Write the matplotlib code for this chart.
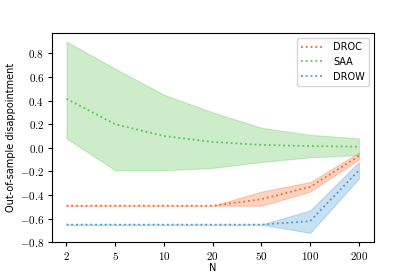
import matplotlib
matplotlib.use("Agg")
import matplotlib.pyplot as plt
from matplotlib.ticker import FuncFormatter

N_labels = ["2", "5", "10", "20", "50", "100", "200"]

droc_mean = [-0.49, -0.49, -0.49, -0.49, -0.435, -0.33, -0.07]
droc_low = [-0.49, -0.49, -0.49, -0.49, -0.49, -0.37, -0.10]
droc_high = [-0.49, -0.49, -0.49, -0.49, -0.37, -0.29, -0.04]

saa_mean = [0.415, 0.20, 0.10, 0.05, 0.025, 0.015, 0.01]
saa_low = [0.08, -0.19, -0.19, -0.17, -0.12, -0.08, -0.06]
saa_high = [0.90, 0.67, 0.45, 0.30, 0.17, 0.11, 0.08]

drow_mean = [-0.65, -0.65, -0.65, -0.65, -0.65, -0.62, -0.19]
drow_low = [-0.65, -0.65, -0.65, -0.65, -0.65, -0.72, -0.26]
drow_high = [-0.65, -0.65, -0.65, -0.65, -0.65, -0.53, -0.12]

c_droc = "#fa6a2c"
c_saa = "#5cc450"
c_drow = "#4a9bd6"

plt.rcParams["mathtext.fontset"] = "cm"
fig, ax = plt.subplots(figsize=(4.15, 2.77), dpi=100)
fig.subplots_adjust(left=0.125, right=0.9, top=0.88, bottom=0.125)

x = list(range(len(N_labels)))
for mean, lo, hi, c, lab in [(droc_mean, droc_low, droc_high, c_droc, "DROC"),
                             (saa_mean, saa_low, saa_high, c_saa, "SAA"),
                             (drow_mean, drow_low, drow_high, c_drow, "DROW")]:
    ax.plot(x, mean, linestyle=":", color=c, lw=1.3, label=lab)
    ax.fill_between(x, lo, hi, color=c, alpha=0.3, lw=0.8)

ax.set_xticks(x)
ax.set_xticklabels(["$" + s + "$" for s in N_labels], fontsize=8)
ax.set_xlim(-0.3, 6.3)
ax.set_ylim(-0.8, 0.97)
ax.set_yticks([-0.8, -0.6, -0.4, -0.2, 0.0, 0.2, 0.4, 0.6, 0.8])
ax.yaxis.set_major_formatter(FuncFormatter(lambda v, p: "$%.1f$" % v))
ax.tick_params(labelsize=8, length=3, pad=2.5)
ax.set_xlabel("N", fontsize=7, labelpad=1)
ax.set_ylabel("Out-of-sample disappointment", fontsize=7, labelpad=3)
ax.legend(loc="upper right", fontsize=7, frameon=True, handlelength=2.5)

fig.savefig("out.png", dpi=100)
